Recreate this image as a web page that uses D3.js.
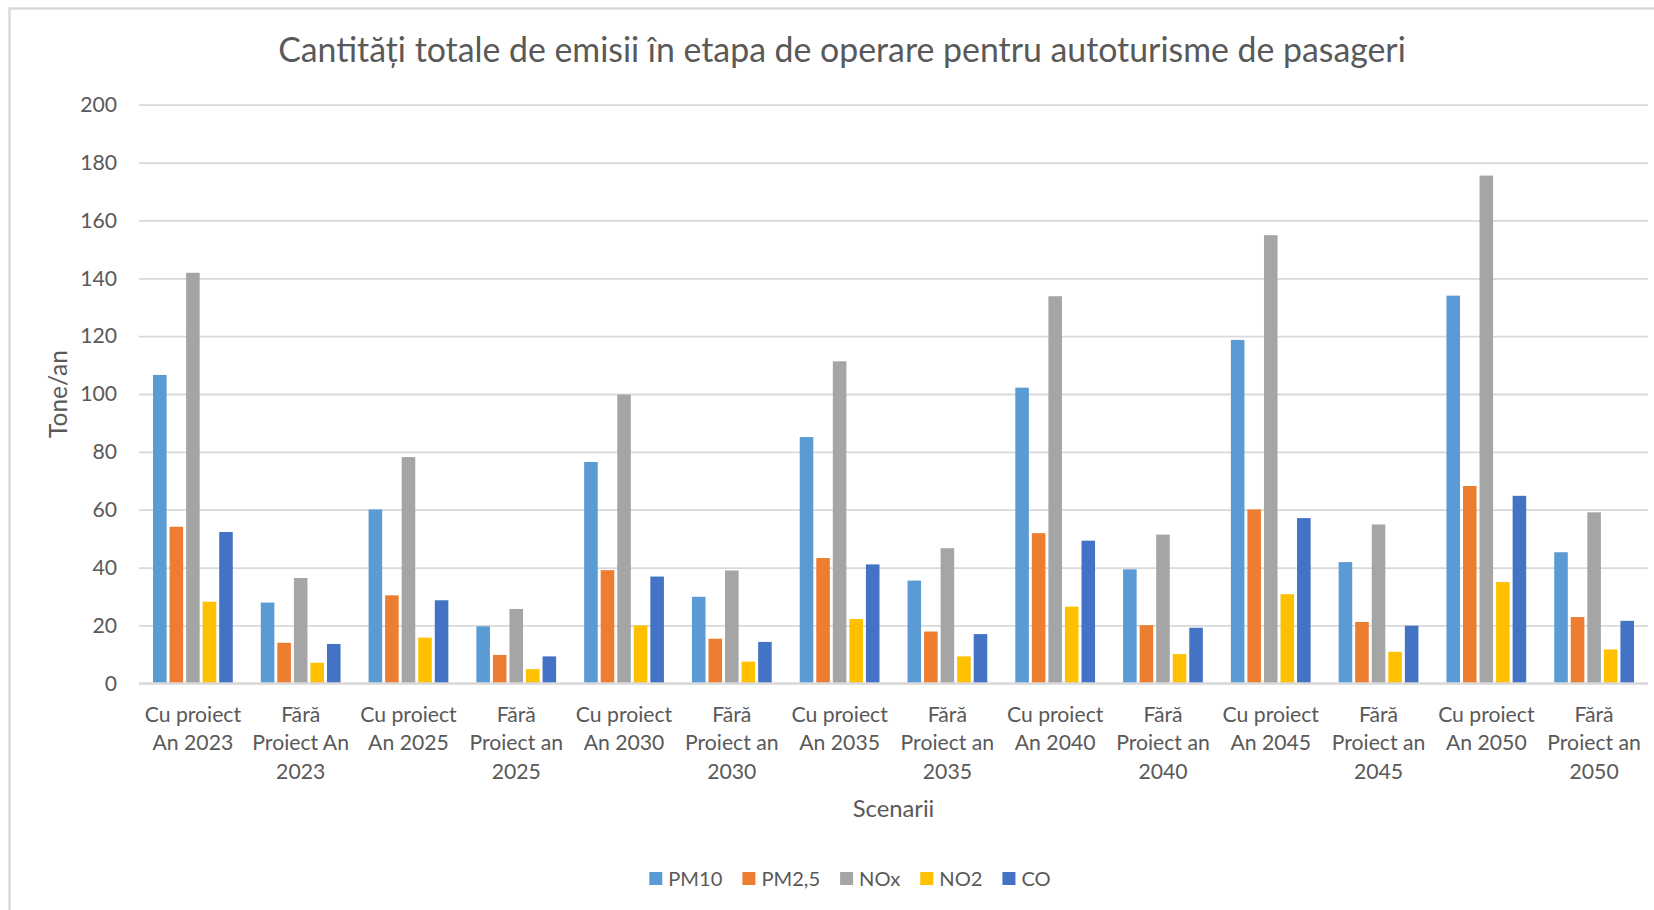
<!DOCTYPE html>
<html>
<head>
<meta charset="utf-8">
<script src="https://cdn.jsdelivr.net/npm/d3@7"></script>
<style>
	html, body { margin: 0; padding: 0; background: #fff; }
	svg text { font-family: Lato, "Noto Sans", sans-serif; fill: #595959; }
</style>
</head>
<body>
<svg id="chart" width="1654" height="910"></svg>
<script>

// chart data
var title = "Cantități totale de emisii în etapa de operare pentru autoturisme de pasageri";
var yTitle = "Tone/an";
var xTitle = "Scenarii";

// category labels, line breaks as in the original
var categories = [
	"Cu proiect\nAn 2023", "Fără\nProiect An\n2023",
	"Cu proiect\nAn 2025", "Fără\nProiect an\n2025",
	"Cu proiect\nAn 2030", "Fără\nProiect an\n2030",
	"Cu proiect\nAn 2035", "Fără\nProiect an\n2035",
	"Cu proiect\nAn 2040", "Fără\nProiect an\n2040",
	"Cu proiect\nAn 2045", "Fără\nProiect an\n2045",
	"Cu proiect\nAn 2050", "Fără\nProiect an\n2050"
];

var seriesNames = ["PM10", "PM2,5", "NOx", "NO2", "CO"];
var seriesColors = ["#5B9BD5", "#ED7D31", "#A5A5A5", "#FFC000", "#4472C4"];

var pm10 = [106.6, 27.9, 60.1, 19.7, 76.5, 29.9, 85.1, 35.5, 102.2, 39.4, 118.7, 41.9, 134.0, 45.3];
var pm25 = [54.1, 14.0, 30.4, 9.8, 39.1, 15.4, 43.3, 17.9, 51.9, 20.1, 60.1, 21.2, 68.2, 22.9];
var nox  = [141.9, 36.4, 78.2, 25.7, 99.8, 39.0, 111.3, 46.7, 133.8, 51.4, 154.9, 54.9, 175.5, 59.1];
var no2  = [28.2, 7.1, 15.8, 4.9, 20.0, 7.5, 22.2, 9.3, 26.5, 10.1, 30.8, 10.9, 35.0, 11.7];
var co   = [52.3, 13.6, 28.7, 9.3, 36.9, 14.3, 41.1, 17.0, 49.3, 19.2, 57.1, 19.9, 64.8, 21.6];

var seriesValues = [pm10, pm25, nox, no2, co];
var yTicks = [0, 20, 40, 60, 80, 100, 120, 140, 160, 180, 200];

// layout
var plot = { left: 139, right: 1648, top: 104.7, bottom: 683.3 };

var svg = d3.select("#chart");

// chart area border
svg.append("rect")
	.attr("x", 9.5).attr("y", 8.5)
	.attr("width", 1700).attr("height", 1000)
	.attr("fill", "#fff")
	.attr("stroke", "#d9d9d9")
	.attr("stroke-width", 2.5);

// font size so that the probe text gets the wanted width
function fitSize(text, target, base) {
	var t = svg.append("text").attr("font-size", base).text(text);
	var w = t.node().getComputedTextLength();
	t.remove();
	return base * target / w;
};
var labelSize = fitSize("Cu proiect", 96.4, 23);
var titleSize = fitSize(title, 1128, 31);
var xTitleSize = fitSize(xTitle, 81.7, 23);
var yTitleSize = fitSize(yTitle, 88, 23);

// scales
var x0 = d3.scaleBand()
	.domain(categories)
	.range([plot.left, plot.right])
	.paddingInner(0.26)
	.paddingOuter(0.13);

var x1 = d3.scaleBand()
	.domain(seriesNames)
	.range([0, x0.bandwidth()])
	.paddingInner(0.18);

var y = d3.scaleLinear()
	.domain([0, 200])
	.range([plot.bottom, plot.top]);

// y axis with gridlines
var yAxis = svg.append("g")
	.attr("transform", "translate(" + plot.left + ",0)")
	.call(d3.axisLeft(y)
		.tickValues(yTicks)
		.tickSizeInner(-(plot.right - plot.left))
		.tickSizeOuter(0)
		.tickPadding(22));
yAxis.select(".domain").remove();
yAxis.selectAll(".tick line")
	.attr("stroke", "#d9d9d9")
	.attr("stroke-width", 1.8);
yAxis.selectAll(".tick text")
	.attr("font-size", labelSize)
	.attr("fill", "#595959")
	.style("font-family", "Lato, 'Noto Sans', sans-serif");

// bars
var groups = svg.append("g").selectAll("g")
	.data(categories)
	.join("g")
	.attr("transform", function (d) { return "translate(" + x0(d) + ",0)"; });

groups.selectAll("rect")
	.data(function (d, i) {
		return seriesNames.map(function (s, j) { return { name: s, value: seriesValues[j][i], color: seriesColors[j] }; });
	})
	.join("rect")
	.attr("x", function (d) { return x1(d.name); })
	.attr("width", x1.bandwidth())
	.attr("y", function (d) { return y(d.value); })
	.attr("height", function (d) { return y(0) - y(d.value); })
	.attr("fill", function (d) { return d.color; });

// zero line on top of bars
svg.append("line")
	.attr("x1", plot.left).attr("x2", plot.right)
	.attr("y1", y(0)).attr("y2", y(0))
	.attr("stroke", "#d9d9d9")
	.attr("stroke-width", 2);

// category labels
var lineBase = [721.7, 750.4, 779];
svg.append("g").selectAll("text")
	.data(categories)
	.join("text")
	.attr("text-anchor", "middle")
	.attr("font-size", labelSize)
	.each(function (d) {
		var cx = x0(d) + x0.bandwidth() / 2;
		d3.select(this).selectAll("tspan")
			.data(d.split("\n"))
			.join("tspan")
			.attr("x", cx)
			.attr("y", function (l, i) { return lineBase[i]; })
			.text(function (l) { return l; });
	});

// titles
svg.append("text")
	.attr("x", 842).attr("y", 61.7)
	.attr("text-anchor", "middle")
	.attr("font-size", titleSize)
	.text(title);

svg.append("text")
	.attr("x", (plot.left + plot.right) / 2).attr("y", 817)
	.attr("text-anchor", "middle")
	.attr("font-size", xTitleSize)
	.text(xTitle);

svg.append("text")
	.attr("transform", "translate(" + (49 + yTitleSize * 0.72) + "," + ((plot.top + plot.bottom) / 2) + ") rotate(-90)")
	.attr("text-anchor", "middle")
	.attr("font-size", yTitleSize)
	.text(yTitle);

// legend, centered under the chart
var legend = svg.append("g");
var lx = 0;
seriesNames.forEach(function (s, i) {
	var item = legend.append("g").attr("transform", "translate(" + lx + ",0)");
	item.append("rect")
		.attr("x", 0).attr("y", -6.5)
		.attr("width", 13).attr("height", 13)
		.attr("fill", seriesColors[i]);
	var t = item.append("text")
		.attr("x", 19).attr("y", 0)
		.attr("dy", "0.35em")
		.attr("font-size", labelSize * 0.95)
		.text(s);
	lx += 19 + t.node().getComputedTextLength() + 20;
});
lx -= 20;
legend.attr("transform", "translate(" + (850 - lx / 2) + ",878.5)");

</script>
</body>
</html>
